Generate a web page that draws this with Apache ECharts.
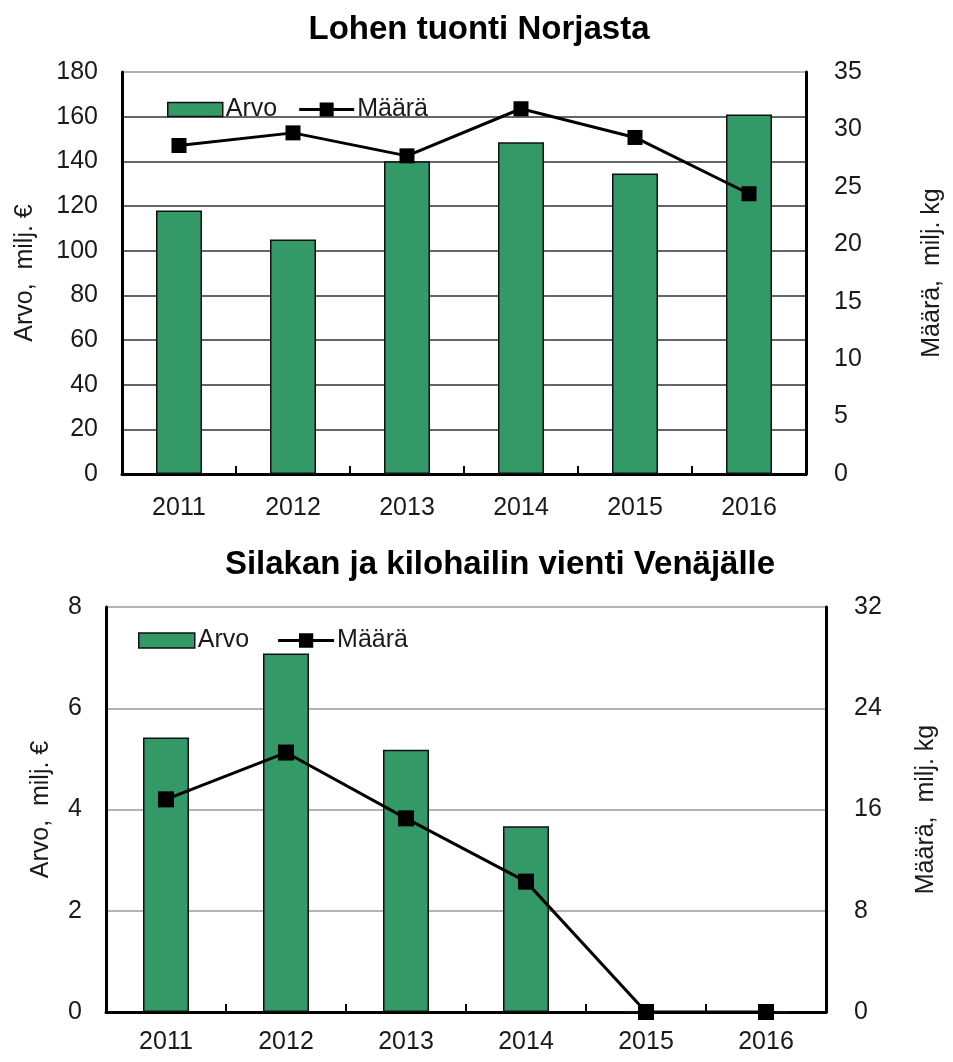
<!DOCTYPE html>
<html>
<head>
<meta charset="utf-8">
<title>Lohi ja silakka</title>
<script src="https://cdn.jsdelivr.net/npm/echarts@6/dist/echarts.min.js"></script>
<style>
  html, body { margin: 0; padding: 0; background: #fff; }
  #main { width: 953px; height: 1062px; }
</style>
</head>
<body>
<div id="main"></div>
<script>
var years = ['2011', '2012', '2013', '2014', '2015', '2016'];

// Lohen tuonti Norjasta
var loheArvo = [118, 105, 140, 148.5, 134.5, 161];
var loheMaara = [28.6, 29.7, 27.7, 31.8, 29.3, 24.4];

// Silakan ja kilohailin vienti Venäjälle
var silakkaArvo = [5.42, 7.08, 5.18, 3.67, 0, 0];
var silakkaMaara = [16.8, 20.5, 15.3, 10.3, 0, 0];

var font = 'Liberation Sans, Arial, sans-serif';
var barColor = '#339966';
var txt = '#1a1a1a';

function xAxisFor(gridIndex, margin) {
    return {
        type: 'category',
        gridIndex: gridIndex,
        data: years,
        boundaryGap: true,
        axisLine: { lineStyle: { color: '#000', width: 3 } },
        axisTick: { show: true, inside: true, length: 8, interval: 0, lineStyle: { color: '#000', width: 2 } },
        axisLabel: { color: txt, fontSize: 25, fontFamily: font, margin: margin }
    };
}

function yAxisFor(gridIndex, pos, max, interval, name, nameGap, splitColor) {
    return {
        type: 'value',
        gridIndex: gridIndex,
        position: pos,
        min: 0,
        max: max,
        interval: interval,
        name: name,
        nameLocation: 'middle',
        nameRotate: 90,
        nameGap: nameGap,
        nameTextStyle: { color: txt, fontSize: 25, fontFamily: font },
        axisLine: { show: true, lineStyle: { color: '#000', width: 3 } },
        axisTick: { show: false },
        axisLabel: { color: txt, fontSize: 25, fontFamily: font, margin: pos == 'left' ? 24 : 28 },
        splitLine: splitColor ? { show: true, lineStyle: { color: splitColor, width: 1.5 } } : { show: false }
    };
}

var barStyle = { color: barColor, borderColor: '#111', borderWidth: 1.5 };
var lineStyle = { color: '#000', width: 3 };

// legend line icon: thick line with a square in the middle
var lineIcon = 'path://M0,5.5H20.5V0H34.5V5.5H55V8.5H34.5V14H20.5V8.5H0Z';

function legendData(suffix) {
    return [
        { name: 'Arvo' + suffix, icon: 'rect', itemStyle: { borderColor: '#111', borderWidth: 1.5 } },
        { name: 'Määrä' + suffix, icon: lineIcon, itemStyle: { color: '#000' } }
    ];
}

var myChart = echarts.init(document.getElementById('main'));
var option = {
    animation: false,
    backgroundColor: '#fff',
    title: [
        { text: 'Lohen tuonti Norjasta', left: 474, top: 8, textAlign: 'center',
          textStyle: { fontSize: 33, fontWeight: 'bold', color: '#000', fontFamily: font } },
        { text: 'Silakan ja kilohailin vienti Venäjälle', left: 495, top: 543, textAlign: 'center',
          textStyle: { fontSize: 33, fontWeight: 'bold', color: '#000', fontFamily: font } }
    ],
    legend: [
        { left: 162, top: 92, itemWidth: 55, itemHeight: 14, itemGap: 22,
          textStyle: { fontSize: 25, color: txt, fontFamily: font, padding: [0, 0, 0, -2] },
          data: legendData('') },
        { left: 133, top: 623, itemWidth: 56, itemHeight: 15, itemGap: 22,
          textStyle: { fontSize: 25, color: txt, fontFamily: font, padding: [0, 0, 0, -2] },
          data: legendData(' ') }
    ],
    grid: [
        { left: 122, right: 143, top: 72, height: 402 },
        { left: 106, right: 127, top: 607, height: 405 }
    ],
    xAxis: [xAxisFor(0, 22), xAxisFor(1, 18)],
    yAxis: [
        yAxisFor(0, 'left', 180, 20, 'Arvo,  milj. €', 84, ['#333', '#333', '#333', '#333', '#333', '#333', '#333', '#333', '#333', '#999']),
        yAxisFor(0, 'right', 35, 5, 'Määrä,  milj. kg', 114, null),
        yAxisFor(1, 'left', 8, 2, 'Arvo,  milj. €', 52, '#9a9a9a'),
        yAxisFor(1, 'right', 32, 8, 'Määrä,  milj. kg', 88, null)
    ],
    series: [
        { name: 'Arvo', type: 'bar', xAxisIndex: 0, yAxisIndex: 0, barWidth: 46,
          itemStyle: barStyle, data: loheArvo },
        { name: 'Määrä', type: 'line', xAxisIndex: 0, yAxisIndex: 1, symbol: 'rect', symbolSize: 15,
          itemStyle: { color: '#000' }, lineStyle: lineStyle, data: loheMaara },
        { name: 'Arvo ', type: 'bar', xAxisIndex: 1, yAxisIndex: 2, barWidth: 46,
          itemStyle: barStyle, data: silakkaArvo },
        { name: 'Määrä ', type: 'line', xAxisIndex: 1, yAxisIndex: 3, symbol: 'rect', symbolSize: 16,
          itemStyle: { color: '#000' }, lineStyle: lineStyle, data: silakkaMaara }
    ]
};
myChart.setOption(option);
</script>
</body>
</html>
